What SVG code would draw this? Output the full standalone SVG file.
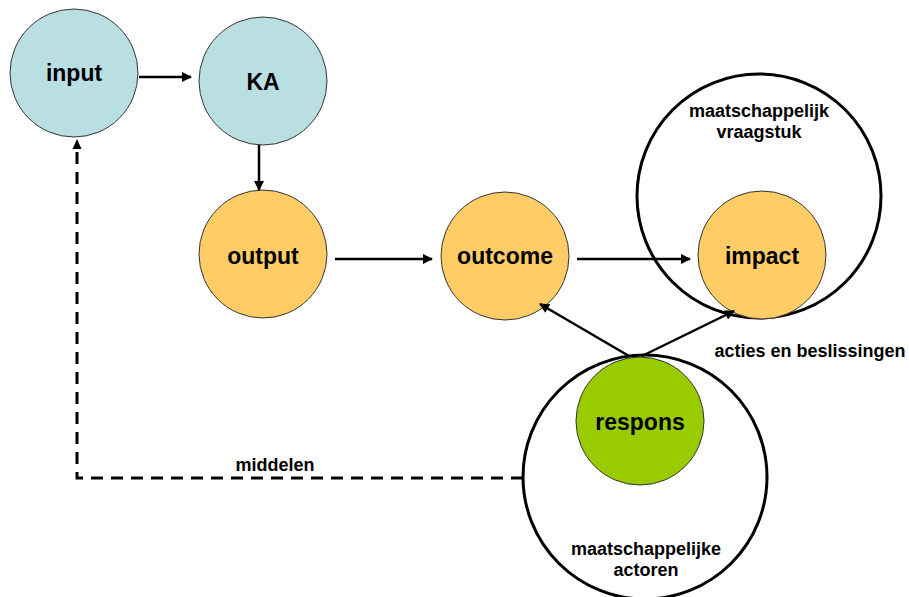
<svg xmlns="http://www.w3.org/2000/svg" width="909" height="597" viewBox="0 0 909 597">
<style>
.node{stroke:#333;stroke-width:1}
.blue{fill:#B9DFE3}
.orange{fill:#FFCC66}
.green{fill:#99CC00}
.ring{fill:none;stroke:#000;stroke-width:3}
.lbl{font-family:"Liberation Sans",Arial,sans-serif;font-weight:bold;font-size:23px;fill:#000;text-anchor:middle}
.sm{font-family:"Liberation Sans",Arial,sans-serif;font-weight:bold;font-size:18px;fill:#000;text-anchor:middle}
.arr{stroke:#000;stroke-width:2.5;fill:none;marker-end:url(#ah)}
.dash{stroke:#000;stroke-width:3;fill:none;stroke-dasharray:12 8}
</style>
<defs>
<marker id="ah" viewBox="0 0 10 10" refX="9" refY="5" markerWidth="4.4" markerHeight="4" orient="auto" markerUnits="strokeWidth">
<path d="M0,0 L10,5 L0,10 z" fill="#000"/>
</marker>
</defs>
<g id="vraagstuk">
<circle class="ring" cx="759" cy="196" r="122"/>
<text class="sm" x="759" y="117">maatschappelijk</text>
<text class="sm" x="759" y="138">vraagstuk</text>
</g>
<g id="actoren">
<circle class="ring" cx="645" cy="477" r="122"/>
<text class="sm" x="646" y="555">maatschappelijke</text>
<text class="sm" x="646" y="576">actoren</text>
</g>
<g id="input">
<circle class="node blue" cx="74" cy="73" r="64"/>
<text class="lbl" x="74" y="81">input</text>
</g>
<g id="ka">
<circle class="node blue" cx="263" cy="81" r="64"/>
<text class="lbl" x="263" y="90">KA</text>
</g>
<g id="output">
<circle class="node orange" cx="263" cy="254" r="64"/>
<text class="lbl" x="263" y="264">output</text>
</g>
<g id="outcome">
<circle class="node orange" cx="505" cy="256" r="64"/>
<text class="lbl" x="505" y="264">outcome</text>
</g>
<g id="impact">
<circle class="node orange" cx="762" cy="255" r="64"/>
<text class="lbl" x="762" y="264">impact</text>
</g>
<g id="respons">
<circle class="node green" cx="640" cy="421" r="64"/>
<text class="lbl" x="640" y="430">respons</text>
</g>
<g id="connectors">
<line class="arr" x1="139" y1="77" x2="191" y2="77"/>
<line class="arr" x1="259" y1="145" x2="259" y2="190"/>
<line class="arr" x1="335" y1="259" x2="432" y2="259"/>
<line class="arr" x1="577" y1="259" x2="690" y2="259"/>
<line class="arr" x1="629" y1="356" x2="540" y2="304"/>
<line class="arr" x1="642" y1="356" x2="734" y2="311"/>
<path class="dash" d="M523,478 L77,478 L77,148"/>
<path d="M72.5,149 L77,139 L81.5,149 z" fill="#000"/>
<text class="sm" x="275" y="471">middelen</text>
<text class="sm" x="810" y="357">acties en beslissingen</text>
</g>
</svg>
